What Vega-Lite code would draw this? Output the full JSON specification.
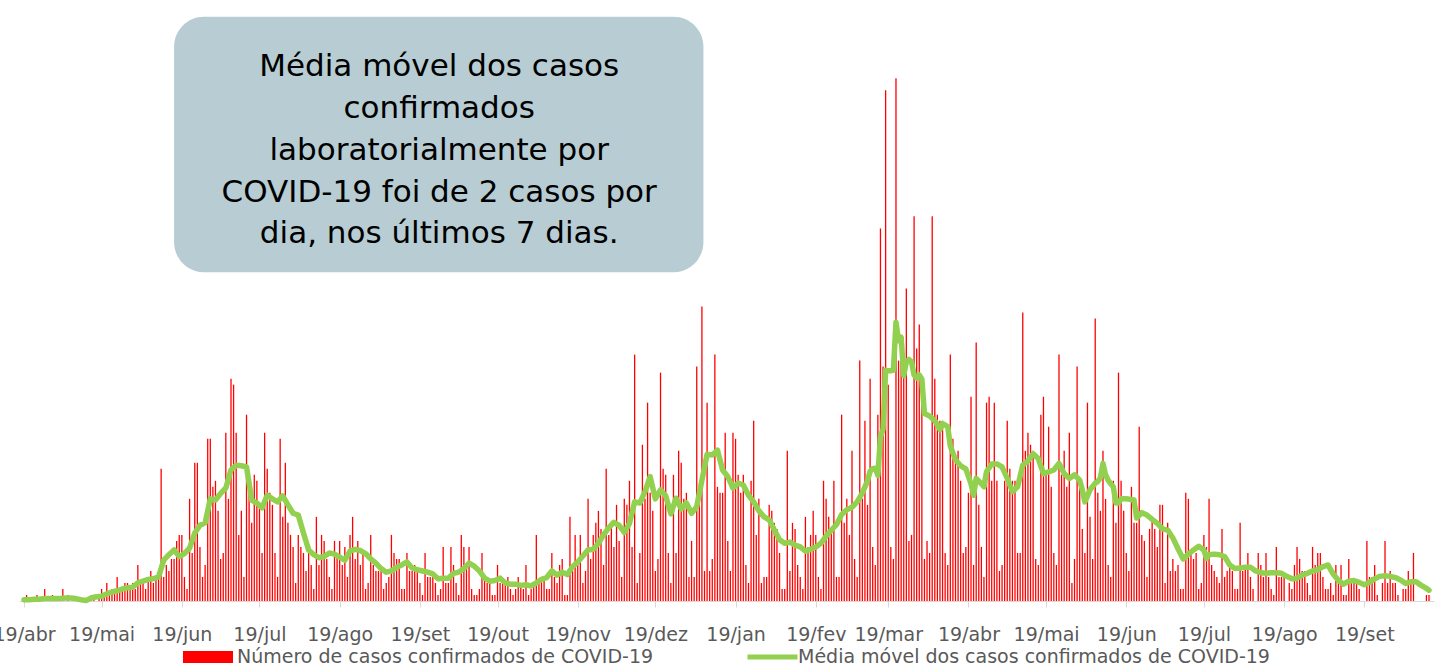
{
"$schema":"https://vega.github.io/schema/vega-lite/v6.json",
"width":1415,"height":601,
"autosize":{"type":"none"},
"padding":{"left":19,"top":0,"right":1,"bottom":68},
"background":"white",
"config":{"view":{"stroke":null},"legend":{"padding":0}},
"data":{"values":[
{"d":"2020-04-19","c":0,"m":0.2},{"d":"2020-04-20","c":1},{"d":"2020-04-21","c":0,"m":0.2},{"d":"2020-04-22","c":0},{"d":"2020-04-23","c":0,"m":0.3},{"d":"2020-04-24","c":1},{"d":"2020-04-25","c":0,"m":0.3},{"d":"2020-04-26","c":0},{"d":"2020-04-27","c":2,"m":0.4},{"d":"2020-04-28","c":0},{"d":"2020-04-29","c":0,"m":0.4},{"d":"2020-04-30","c":1},
{"d":"2020-05-01","c":0,"m":0.4},{"d":"2020-05-02","c":0},{"d":"2020-05-03","c":0,"m":0.4},{"d":"2020-05-04","c":2},{"d":"2020-05-05","c":0,"m":0.5},{"d":"2020-05-06","c":1},{"d":"2020-05-07","c":0,"m":0.5},{"d":"2020-05-08","c":0},{"d":"2020-05-09","c":0,"m":0.4},{"d":"2020-05-10","c":0},{"d":"2020-05-11","c":0,"m":0.2},{"d":"2020-05-12","c":0},{"d":"2020-05-13","c":0,"m":0.1},{"d":"2020-05-14","c":0},{"d":"2020-05-15","c":1,"m":0.5},{"d":"2020-05-16","c":1},{"d":"2020-05-17","c":0,"m":0.7},{"d":"2020-05-18","c":1},{"d":"2020-05-19","c":2,"m":0.8},{"d":"2020-05-20","c":1},{"d":"2020-05-21","c":3,"m":1.2},{"d":"2020-05-22","c":1},{"d":"2020-05-23","c":2,"m":1.5},{"d":"2020-05-24","c":2},{"d":"2020-05-25","c":4,"m":1.7},{"d":"2020-05-26","c":2},{"d":"2020-05-27","c":2,"m":2.0},{"d":"2020-05-28","c":3},{"d":"2020-05-29","c":3,"m":2.2},{"d":"2020-05-30","c":2},{"d":"2020-05-31","c":3,"m":2.3},
{"d":"2020-06-01","c":2},{"d":"2020-06-02","c":6,"m":3.0},{"d":"2020-06-03","c":3},{"d":"2020-06-04","c":3,"m":3.3},{"d":"2020-06-05","c":2},{"d":"2020-06-06","c":4,"m":3.6},{"d":"2020-06-07","c":5},{"d":"2020-06-08","c":3,"m":3.7},{"d":"2020-06-09","c":4},{"d":"2020-06-10","c":4,"m":4.0},{"d":"2020-06-11","c":22},{"d":"2020-06-12","c":4,"m":6.8},{"d":"2020-06-13","c":6},{"d":"2020-06-14","c":5,"m":7.7},{"d":"2020-06-15","c":7},{"d":"2020-06-16","c":7,"m":8.5},{"d":"2020-06-17","c":10},{"d":"2020-06-18","c":11,"m":7.4},{"d":"2020-06-19","c":11},{"d":"2020-06-20","c":4,"m":7.9},{"d":"2020-06-21","c":2},{"d":"2020-06-22","c":17,"m":8.8},{"d":"2020-06-23","c":8},{"d":"2020-06-24","c":23,"m":11.3},{"d":"2020-06-25","c":23},{"d":"2020-06-26","c":9,"m":12.6},{"d":"2020-06-27","c":4},{"d":"2020-06-28","c":6,"m":13.0},{"d":"2020-06-29","c":27},{"d":"2020-06-30","c":27,"m":17.0},
{"d":"2020-07-01","c":19},{"d":"2020-07-02","c":20,"m":16.8},{"d":"2020-07-03","c":15},{"d":"2020-07-04","c":7,"m":17.9},{"d":"2020-07-05","c":8},{"d":"2020-07-06","c":28,"m":18.8},{"d":"2020-07-07","c":17},{"d":"2020-07-08","c":37,"m":21.8},{"d":"2020-07-09","c":36},{"d":"2020-07-10","c":28,"m":22.6},{"d":"2020-07-11","c":11},{"d":"2020-07-12","c":15,"m":22.5},{"d":"2020-07-13","c":4},{"d":"2020-07-14","c":31,"m":22.3},{"d":"2020-07-15","c":18},{"d":"2020-07-16","c":13,"m":16.8},{"d":"2020-07-17","c":21},{"d":"2020-07-18","c":20,"m":16.3},{"d":"2020-07-19","c":16},{"d":"2020-07-20","c":8,"m":15.5},{"d":"2020-07-21","c":28},{"d":"2020-07-22","c":22,"m":17.6},{"d":"2020-07-23","c":18},{"d":"2020-07-24","c":16,"m":17.0},{"d":"2020-07-25","c":8},{"d":"2020-07-26","c":4,"m":16.5},{"d":"2020-07-27","c":27},{"d":"2020-07-28","c":14,"m":17.5},{"d":"2020-07-29","c":23},{"d":"2020-07-30","c":13,"m":16.0},{"d":"2020-07-31","c":11},
{"d":"2020-08-01","c":9,"m":14.6},{"d":"2020-08-02","c":3},{"d":"2020-08-03","c":11,"m":14.3},{"d":"2020-08-04","c":9},{"d":"2020-08-05","c":8,"m":11.3},{"d":"2020-08-06","c":5},{"d":"2020-08-07","c":8,"m":8.5},{"d":"2020-08-08","c":6},{"d":"2020-08-09","c":2,"m":7.7},{"d":"2020-08-10","c":14},{"d":"2020-08-11","c":6,"m":7.2},{"d":"2020-08-12","c":11},{"d":"2020-08-13","c":10,"m":7.4},{"d":"2020-08-14","c":7},{"d":"2020-08-15","c":4,"m":8.0},{"d":"2020-08-16","c":2},{"d":"2020-08-17","c":10,"m":7.8},{"d":"2020-08-18","c":8},{"d":"2020-08-19","c":10,"m":7.3},{"d":"2020-08-20","c":6},{"d":"2020-08-21","c":9,"m":6.8},{"d":"2020-08-22","c":4},{"d":"2020-08-23","c":11,"m":8.3},{"d":"2020-08-24","c":14},{"d":"2020-08-25","c":7,"m":8.6},{"d":"2020-08-26","c":10},{"d":"2020-08-27","c":6,"m":8.4},{"d":"2020-08-28","c":8},{"d":"2020-08-29","c":2,"m":7.9},{"d":"2020-08-30","c":3},{"d":"2020-08-31","c":11,"m":7.0},
{"d":"2020-09-01","c":6},{"d":"2020-09-02","c":5,"m":6.3},{"d":"2020-09-03","c":5},{"d":"2020-09-04","c":5,"m":5.4},{"d":"2020-09-05","c":2},{"d":"2020-09-06","c":3,"m":4.8},{"d":"2020-09-07","c":4},{"d":"2020-09-08","c":11,"m":5.0},{"d":"2020-09-09","c":8},{"d":"2020-09-10","c":7,"m":5.6},{"d":"2020-09-11","c":7},{"d":"2020-09-12","c":2,"m":6.0},{"d":"2020-09-13","c":2},{"d":"2020-09-14","c":8,"m":6.5},{"d":"2020-09-15","c":5},{"d":"2020-09-16","c":5,"m":5.5},{"d":"2020-09-17","c":6},{"d":"2020-09-18","c":5,"m":5.2},{"d":"2020-09-19","c":3},{"d":"2020-09-20","c":1,"m":5.0},{"d":"2020-09-21","c":8},{"d":"2020-09-22","c":4,"m":4.8},{"d":"2020-09-23","c":4},{"d":"2020-09-24","c":4,"m":4.5},{"d":"2020-09-25","c":3},{"d":"2020-09-26","c":1,"m":3.7},{"d":"2020-09-27","c":2},{"d":"2020-09-28","c":9,"m":3.8},{"d":"2020-09-29","c":3},{"d":"2020-09-30","c":3,"m":3.8},
{"d":"2020-10-01","c":9},{"d":"2020-10-02","c":6,"m":4.6},{"d":"2020-10-03","c":3},{"d":"2020-10-04","c":1,"m":4.8},{"d":"2020-10-05","c":11},{"d":"2020-10-06","c":9,"m":5.4},{"d":"2020-10-07","c":6},{"d":"2020-10-08","c":9,"m":6.3},{"d":"2020-10-09","c":2},{"d":"2020-10-10","c":1,"m":5.8},{"d":"2020-10-11","c":1},{"d":"2020-10-12","c":2,"m":5.0},{"d":"2020-10-13","c":8},{"d":"2020-10-14","c":4,"m":3.8},{"d":"2020-10-15","c":3},{"d":"2020-10-16","c":3,"m":3.3},{"d":"2020-10-17","c":1},{"d":"2020-10-18","c":1,"m":3.4},{"d":"2020-10-19","c":6},{"d":"2020-10-20","c":3,"m":3.8},{"d":"2020-10-21","c":3},{"d":"2020-10-22","c":3,"m":3.0},{"d":"2020-10-23","c":4},{"d":"2020-10-24","c":2,"m":2.8},{"d":"2020-10-25","c":1},{"d":"2020-10-26","c":2,"m":2.8},{"d":"2020-10-27","c":4},{"d":"2020-10-28","c":3,"m":2.6},{"d":"2020-10-29","c":2},{"d":"2020-10-30","c":6,"m":2.7},{"d":"2020-10-31","c":1},
{"d":"2020-11-01","c":2,"m":2.5},{"d":"2020-11-02","c":3},{"d":"2020-11-03","c":11,"m":3.0},{"d":"2020-11-04","c":3},{"d":"2020-11-05","c":4,"m":3.6},{"d":"2020-11-06","c":4},{"d":"2020-11-07","c":2,"m":3.9},{"d":"2020-11-08","c":2},{"d":"2020-11-09","c":8,"m":5.0},{"d":"2020-11-10","c":4},{"d":"2020-11-11","c":3,"m":4.3},{"d":"2020-11-12","c":6},{"d":"2020-11-13","c":7,"m":4.8},{"d":"2020-11-14","c":1},{"d":"2020-11-15","c":1,"m":4.4},{"d":"2020-11-16","c":14},{"d":"2020-11-17","c":5,"m":5.7},{"d":"2020-11-18","c":11},{"d":"2020-11-19","c":6,"m":6.5},{"d":"2020-11-20","c":11},{"d":"2020-11-21","c":3,"m":7.5},{"d":"2020-11-22","c":5},{"d":"2020-11-23","c":17,"m":8.5},{"d":"2020-11-24","c":7},{"d":"2020-11-25","c":11,"m":8.6},{"d":"2020-11-26","c":13},{"d":"2020-11-27","c":15,"m":9.6},{"d":"2020-11-28","c":12},{"d":"2020-11-29","c":6,"m":11.0},{"d":"2020-11-30","c":22},
{"d":"2020-12-01","c":11,"m":12.2},{"d":"2020-12-02","c":13},{"d":"2020-12-03","c":9,"m":13.1},{"d":"2020-12-04","c":16},{"d":"2020-12-05","c":10,"m":12.6},{"d":"2020-12-06","c":4},{"d":"2020-12-07","c":17,"m":11.4},{"d":"2020-12-08","c":16},{"d":"2020-12-09","c":20,"m":12.9},{"d":"2020-12-10","c":9},{"d":"2020-12-11","c":41,"m":16.5},{"d":"2020-12-12","c":3},{"d":"2020-12-13","c":8,"m":16.3},{"d":"2020-12-14","c":26},{"d":"2020-12-15","c":17,"m":18.2},{"d":"2020-12-16","c":33},{"d":"2020-12-17","c":18,"m":20.7},{"d":"2020-12-18","c":15},{"d":"2020-12-19","c":5,"m":17.0},{"d":"2020-12-20","c":7},{"d":"2020-12-21","c":38,"m":18.5},{"d":"2020-12-22","c":22},{"d":"2020-12-23","c":21,"m":17.5},{"d":"2020-12-24","c":8},{"d":"2020-12-25","c":3,"m":14.5},{"d":"2020-12-26","c":21},{"d":"2020-12-27","c":8,"m":17.1},{"d":"2020-12-28","c":25},{"d":"2020-12-29","c":23,"m":15.3},{"d":"2020-12-30","c":17},{"d":"2020-12-31","c":18,"m":16.3},
{"d":"2021-01-01","c":4},{"d":"2021-01-02","c":10,"m":14.6},{"d":"2021-01-03","c":4},{"d":"2021-01-04","c":39,"m":15.7},{"d":"2021-01-05","c":19},{"d":"2021-01-06","c":49,"m":20.1},{"d":"2021-01-07","c":5},{"d":"2021-01-08","c":33,"m":24.4},{"d":"2021-01-09","c":5},{"d":"2021-01-10","c":7,"m":24.3},{"d":"2021-01-11","c":41},{"d":"2021-01-12","c":19,"m":25.1},{"d":"2021-01-13","c":18},{"d":"2021-01-14","c":18,"m":21.8},{"d":"2021-01-15","c":28},{"d":"2021-01-16","c":10,"m":20.7},{"d":"2021-01-17","c":5},{"d":"2021-01-18","c":28,"m":18.8},{"d":"2021-01-19","c":27},{"d":"2021-01-20","c":21,"m":19.6},{"d":"2021-01-21","c":18},{"d":"2021-01-22","c":21,"m":19.3},{"d":"2021-01-23","c":6},{"d":"2021-01-24","c":3,"m":17.6},{"d":"2021-01-25","c":20},{"d":"2021-01-26","c":30,"m":16.5},{"d":"2021-01-27","c":11},{"d":"2021-01-28","c":17,"m":15.0},{"d":"2021-01-29","c":3},{"d":"2021-01-30","c":4,"m":14.0},{"d":"2021-01-31","c":4},
{"d":"2021-02-01","c":16,"m":13.5},{"d":"2021-02-02","c":15},{"d":"2021-02-03","c":13,"m":11.8},{"d":"2021-02-04","c":12},{"d":"2021-02-05","c":8,"m":10.2},{"d":"2021-02-06","c":2},{"d":"2021-02-07","c":2,"m":9.6},{"d":"2021-02-08","c":25},{"d":"2021-02-09","c":5,"m":9.8},{"d":"2021-02-10","c":13},{"d":"2021-02-11","c":12,"m":9.3},{"d":"2021-02-12","c":6},{"d":"2021-02-13","c":4,"m":9.0},{"d":"2021-02-14","c":2},{"d":"2021-02-15","c":14,"m":8.3},{"d":"2021-02-16","c":9},{"d":"2021-02-17","c":11,"m":8.6},{"d":"2021-02-18","c":15},{"d":"2021-02-19","c":11,"m":9.0},{"d":"2021-02-20","c":4},{"d":"2021-02-21","c":2,"m":9.6},{"d":"2021-02-22","c":20},{"d":"2021-02-23","c":17,"m":10.8},{"d":"2021-02-24","c":14},{"d":"2021-02-25","c":12,"m":11.8},{"d":"2021-02-26","c":20},{"d":"2021-02-27","c":4,"m":12.7},{"d":"2021-02-28","c":4},
{"d":"2021-03-01","c":31,"m":14.4},{"d":"2021-03-02","c":13},{"d":"2021-03-03","c":17,"m":15.2},{"d":"2021-03-04","c":11},{"d":"2021-03-05","c":25,"m":15.6},{"d":"2021-03-06","c":7},{"d":"2021-03-07","c":4,"m":16.5},{"d":"2021-03-08","c":40},{"d":"2021-03-09","c":17,"m":18.0},{"d":"2021-03-10","c":30},{"d":"2021-03-11","c":16,"m":20.0},{"d":"2021-03-12","c":37,"m":21.6},{"d":"2021-03-13","c":9,"m":22.0},{"d":"2021-03-14","c":6,"m":22.1},{"d":"2021-03-15","c":31,"m":20.9},{"d":"2021-03-16","c":62,"m":27.3},{"d":"2021-03-17","c":39,"m":28.6},{"d":"2021-03-18","c":85,"m":38.4},{"d":"2021-03-19","c":36,"m":38.3},{"d":"2021-03-20","c":9,"m":38.3},{"d":"2021-03-21","c":7,"m":38.4},{"d":"2021-03-22","c":87,"m":46.4},{"d":"2021-03-23","c":40,"m":43.3},{"d":"2021-03-24","c":43,"m":43.9},{"d":"2021-03-25","c":38,"m":37.5},{"d":"2021-03-26","c":52,"m":39.8},{"d":"2021-03-27","c":10,"m":40.2},{"d":"2021-03-28","c":11,"m":39.8},{"d":"2021-03-29","c":64,"m":37.6},{"d":"2021-03-30","c":42,"m":37.1},{"d":"2021-03-31","c":46,"m":37.6},
{"d":"2021-04-01","c":33,"m":36.9},{"d":"2021-04-02","c":7,"m":31.2},{"d":"2021-04-03","c":10,"m":31.0},{"d":"2021-04-04","c":8,"m":30.8},{"d":"2021-04-05","c":64},{"d":"2021-04-06","c":37,"m":30.0},{"d":"2021-04-07","c":31},{"d":"2021-04-08","c":30,"m":28.5},{"d":"2021-04-09","c":30,"m":29.5},{"d":"2021-04-10","c":8,"m":29.3},{"d":"2021-04-11","c":6,"m":29.0},{"d":"2021-04-12","c":41,"m":25.8},{"d":"2021-04-13","c":27},{"d":"2021-04-14","c":23,"m":23.5},{"d":"2021-04-15","c":25},{"d":"2021-04-16","c":20,"m":22.5},{"d":"2021-04-17","c":8},{"d":"2021-04-18","c":9,"m":22.0},{"d":"2021-04-19","c":18},{"d":"2021-04-20","c":34,"m":19.5},{"d":"2021-04-21","c":6,"m":17.6},{"d":"2021-04-22","c":43,"m":20.4},{"d":"2021-04-23","c":16},{"d":"2021-04-24","c":9,"m":19.5},{"d":"2021-04-25","c":4,"m":19.0},{"d":"2021-04-26","c":33,"m":21.5},{"d":"2021-04-27","c":34},{"d":"2021-04-28","c":20,"m":22.8},{"d":"2021-04-29","c":33},{"d":"2021-04-30","c":20,"m":22.8},
{"d":"2021-05-01","c":5},{"d":"2021-05-02","c":6,"m":22.3},{"d":"2021-05-03","c":20},{"d":"2021-05-04","c":30,"m":20.4},{"d":"2021-05-05","c":22},{"d":"2021-05-06","c":20,"m":18.2},{"d":"2021-05-07","c":20},{"d":"2021-05-08","c":8,"m":19.0},{"d":"2021-05-09","c":8},{"d":"2021-05-10","c":48,"m":22.6},{"d":"2021-05-11","c":25},{"d":"2021-05-12","c":28,"m":23.3},{"d":"2021-05-13","c":26},{"d":"2021-05-14","c":25,"m":24.5},{"d":"2021-05-15","c":7},{"d":"2021-05-16","c":6,"m":23.7},{"d":"2021-05-17","c":31},{"d":"2021-05-18","c":34,"m":21.2},{"d":"2021-05-19","c":21},{"d":"2021-05-20","c":29,"m":21.5},{"d":"2021-05-21","c":19},{"d":"2021-05-22","c":8,"m":21.8},{"d":"2021-05-23","c":6},{"d":"2021-05-24","c":41,"m":22.9},{"d":"2021-05-25","c":21},{"d":"2021-05-26","c":25,"m":21.2},{"d":"2021-05-27","c":19},{"d":"2021-05-28","c":28,"m":20.4},{"d":"2021-05-29","c":3},{"d":"2021-05-30","c":7,"m":21.0},{"d":"2021-05-31","c":39},
{"d":"2021-06-01","c":20,"m":20.1},{"d":"2021-06-02","c":12,"m":18.5},{"d":"2021-06-03","c":8,"m":16.5},{"d":"2021-06-04","c":33},{"d":"2021-06-05","c":14,"m":18.5},{"d":"2021-06-06","c":7},{"d":"2021-06-07","c":47,"m":19.6},{"d":"2021-06-08","c":18,"m":19.9},{"d":"2021-06-09","c":15,"m":20.5},{"d":"2021-06-10","c":25,"m":22.9},{"d":"2021-06-11","c":17,"m":21.0},{"d":"2021-06-12","c":6,"m":20.1},{"d":"2021-06-13","c":4,"m":19.5},{"d":"2021-06-14","c":20,"m":19.0},{"d":"2021-06-15","c":13,"m":16.3},{"d":"2021-06-16","c":38,"m":16.3},{"d":"2021-06-17","c":20,"m":17.0},{"d":"2021-06-18","c":15},{"d":"2021-06-19","c":8,"m":17.0},{"d":"2021-06-20","c":5},{"d":"2021-06-21","c":19,"m":16.9},{"d":"2021-06-22","c":13,"m":16.8},{"d":"2021-06-23","c":13,"m":13.8},{"d":"2021-06-24","c":29},{"d":"2021-06-25","c":11,"m":14.7},{"d":"2021-06-26","c":10},{"d":"2021-06-27","c":4,"m":14.3},{"d":"2021-06-28","c":12},{"d":"2021-06-29","c":14,"m":13.6},{"d":"2021-06-30","c":12},
{"d":"2021-07-01","c":9,"m":12.9},{"d":"2021-07-02","c":16},{"d":"2021-07-03","c":16,"m":12.0},{"d":"2021-07-04","c":3},{"d":"2021-07-05","c":13,"m":11.8},{"d":"2021-07-06","c":5},{"d":"2021-07-07","c":7,"m":10.5},{"d":"2021-07-08","c":5},{"d":"2021-07-09","c":6,"m":8.7},{"d":"2021-07-10","c":2},{"d":"2021-07-11","c":2,"m":7.0},{"d":"2021-07-12","c":18},{"d":"2021-07-13","c":17,"m":7.8},{"d":"2021-07-14","c":8},{"d":"2021-07-15","c":7,"m":8.5},{"d":"2021-07-16","c":8},{"d":"2021-07-17","c":2,"m":9.1},{"d":"2021-07-18","c":3},{"d":"2021-07-19","c":11,"m":8.5},{"d":"2021-07-20","c":9,"m":7.1},{"d":"2021-07-21","c":17,"m":7.7},{"d":"2021-07-22","c":6},{"d":"2021-07-23","c":5,"m":7.8},{"d":"2021-07-24","c":4},{"d":"2021-07-25","c":3,"m":7.7},{"d":"2021-07-26","c":12},{"d":"2021-07-27","c":4,"m":7.4},{"d":"2021-07-28","c":5},{"d":"2021-07-29","c":6,"m":6.0},{"d":"2021-07-30","c":5},{"d":"2021-07-31","c":2,"m":5.4},
{"d":"2021-08-01","c":2},{"d":"2021-08-02","c":13,"m":5.5},{"d":"2021-08-03","c":5},{"d":"2021-08-04","c":6,"m":5.6},{"d":"2021-08-05","c":8},{"d":"2021-08-06","c":4,"m":5.6},{"d":"2021-08-07","c":2},{"d":"2021-08-08","c":0,"m":5.0},{"d":"2021-08-09","c":8},{"d":"2021-08-10","c":6,"m":4.7},{"d":"2021-08-11","c":4},{"d":"2021-08-12","c":8,"m":4.6},{"d":"2021-08-13","c":4},{"d":"2021-08-14","c":2,"m":4.7},{"d":"2021-08-15","c":1},{"d":"2021-08-16","c":9,"m":4.7},{"d":"2021-08-17","c":4},{"d":"2021-08-18","c":4,"m":4.6},{"d":"2021-08-19","c":4},{"d":"2021-08-20","c":0,"m":4.1},{"d":"2021-08-21","c":3},{"d":"2021-08-22","c":2,"m":3.7},{"d":"2021-08-23","c":6},{"d":"2021-08-24","c":9,"m":3.8},{"d":"2021-08-25","c":7},{"d":"2021-08-26","c":5,"m":4.3},{"d":"2021-08-27","c":5},{"d":"2021-08-28","c":3,"m":4.6},{"d":"2021-08-29","c":1},{"d":"2021-08-30","c":9,"m":5.0},{"d":"2021-08-31","c":6},
{"d":"2021-09-01","c":8,"m":5.2},{"d":"2021-09-02","c":8},{"d":"2021-09-03","c":4,"m":5.7},{"d":"2021-09-04","c":2},{"d":"2021-09-05","c":2,"m":6.0},{"d":"2021-09-06","c":3,"m":5.2},{"d":"2021-09-07","c":1,"m":4.5},{"d":"2021-09-08","c":6},{"d":"2021-09-09","c":4,"m":3.4},{"d":"2021-09-10","c":6},{"d":"2021-09-11","c":1,"m":2.8},{"d":"2021-09-12","c":1},{"d":"2021-09-13","c":7,"m":3.3},{"d":"2021-09-14","c":3},{"d":"2021-09-15","c":3,"m":3.4},{"d":"2021-09-16","c":3},{"d":"2021-09-17","c":2,"m":3.1},{"d":"2021-09-18","c":0},{"d":"2021-09-19","c":0,"m":2.7},{"d":"2021-09-20","c":10},{"d":"2021-09-21","c":4,"m":3.1},{"d":"2021-09-22","c":4},{"d":"2021-09-23","c":6,"m":3.7},{"d":"2021-09-24","c":1},{"d":"2021-09-25","c":0,"m":4.1},{"d":"2021-09-26","c":3},{"d":"2021-09-27","c":10,"m":4.2},{"d":"2021-09-28","c":3},{"d":"2021-09-29","c":5,"m":4.1},{"d":"2021-09-30","c":3},
{"d":"2021-10-01","c":3,"m":3.9},{"d":"2021-10-02","c":1},{"d":"2021-10-03","c":0,"m":3.5},{"d":"2021-10-04","c":2},{"d":"2021-10-05","c":2,"m":2.9},{"d":"2021-10-06","c":5},{"d":"2021-10-07","c":3,"m":3.2},{"d":"2021-10-08","c":8},{"d":"2021-10-09","c":0,"m":3.2},{"d":"2021-10-10","c":0},{"d":"2021-10-11","c":0,"m":2.6},{"d":"2021-10-12","c":0},{"d":"2021-10-13","c":1,"m":2.1},{"d":"2021-10-14","c":1,"m":1.8}
]},
"layer":[
{"mark":{"type":"bar","width":1.3},
 "encoding":{
  "x":{"field":"d","type":"temporal",
   "scale":{"type":"utc","domain":[1587254400000,1634169600000]},
   "axis":{"title":null,"grid":false,
    "values":[1587254400000,1589846400000,1592524800000,1595116800000,1597795200000,1600473600000,1603065600000,1605744000000,1608336000000,1611014400000,1613692800000,1616112000000,1618790400000,1621382400000,1624060800000,1626652800000,1629331200000,1632009600000],
    "labelExpr":"'19/' + ['jan','fev','mar','abr','mai','jun','jul','ago','set','out','nov','dez'][utcmonth(datum.value)]",
    "domainColor":"#d9d9d9","tickColor":"#d9d9d9","tickSize":6,
    "labelFont":"DejaVu Sans","labelFontSize":19,"labelColor":"#595959","labelPadding":18,
    "labelOverlap":false,"labelFlush":false,"labelBound":false}},
  "y":{"field":"c","type":"quantitative","scale":{"domain":[0,100],"nice":false},"axis":null},
  "fill":{"datum":"Número de casos confirmados de COVID-19","type":"nominal","scale":{"range":["#ff0000"]},
   "legend":{"orient":"none","legendX":164,"legendY":632,"title":null,"symbolType":"M-1,-0.24H1V0.24H-1Z","symbolSize":2500,"symbolStrokeWidth":0,"labelFont":"DejaVu Sans","labelFontSize":19,"labelColor":"#595959","labelLimit":900,"labelOffset":4,"padding":0}}}},
{"transform":[{"filter":"isValid(datum.m)"}],
 "mark":{"type":"line","strokeWidth":5.5,"strokeJoin":"round","strokeCap":"round"},
 "encoding":{
  "x":{"field":"d","type":"temporal"},
  "y":{"field":"m","type":"quantitative"},
  "stroke":{"datum":"Média móvel dos casos confirmados de COVID-19","type":"nominal","scale":{"range":["#92d050"]},
   "legend":{"orient":"none","legendX":726,"legendY":629.5,"title":null,"symbolType":"M-1,0H1","symbolSize":2500,"symbolStrokeWidth":5,"labelFont":"DejaVu Sans","labelFontSize":19,"labelColor":"#595959","labelLimit":900,"labelOffset":-2,"padding":0}}}},
{"data":{"values":[{}]},
 "mark":{"type":"rect","cornerRadius":30,"fill":"#b7cdd3"},
 "encoding":{
  "x":{"datum":1592265600000,"type":"temporal"},
  "x2":{"datum":1609941600000},
  "y":{"datum":97.2,"type":"quantitative"},
  "y2":{"datum":54.7}}},
{"data":{"values":[{}]},
 "mark":{"type":"text","text":["Média móvel dos casos","confirmados","laboratorialmente por","COVID-19 foi de 2 casos por","dia, nos últimos 7 dias."],"font":"DejaVu Sans","fontSize":31,"lineHeight":41.8,"align":"center","baseline":"middle","color":"#000000"},
 "encoding":{
  "x":{"datum":1601118000000,"type":"temporal"},
  "y":{"datum":88.8,"type":"quantitative"}}}
]
}
